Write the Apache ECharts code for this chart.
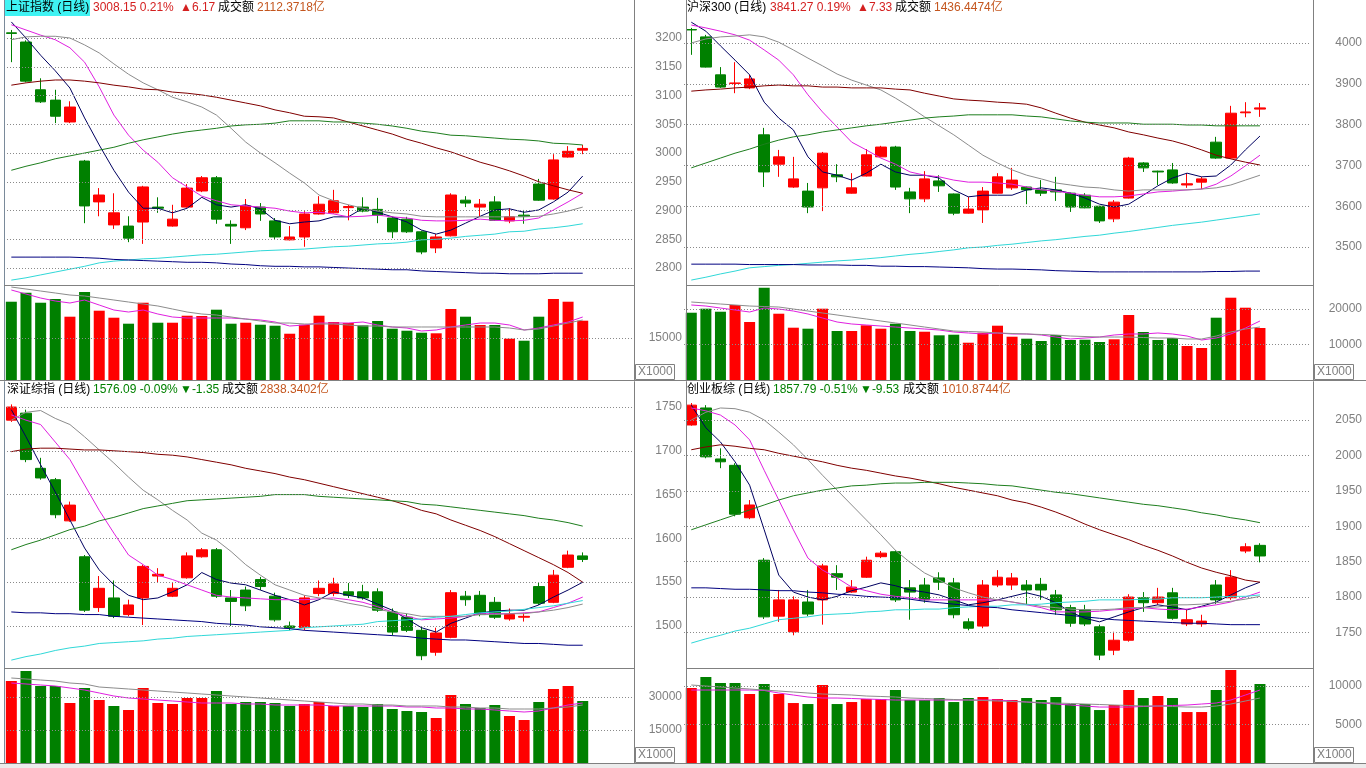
<!DOCTYPE html>
<html><head><meta charset="utf-8">
<script src="https://cdn.jsdelivr.net/npm/echarts@6.0.0/dist/echarts.min.js"></script>
<style>html,body{margin:0;padding:0;background:#fff;overflow:hidden}#c{width:1366px;height:768px}</style>
</head><body><div id="c"></div>
<script>
// ---------- DATA ----------
const CATEGORIES = ['D1','D2','D3','D4','D5','D6','D7','D8','D9','D10','D11','D12','D13','D14','D15','D16','D17','D18','D19','D20','D21','D22','D23','D24','D25','D26','D27','D28','D29','D30','D31','D32','D33','D34','D35','D36','D37','D38','D39','D40','','  ','   '];

// 上证指数  [open, close, low, high]
const SH_OHLC = [[3209,3208,3158,3214],[3193,3125,3123,3196],[3110,3089,3087,3130],[3092,3064,3052,3110],[3054,3080,3052,3090],[2986,2908,2878,2988],[2915,2927,2890,2939],[2875,2896,2868,2930],[2873,2852,2845,2890],[2880,2941,2842,2943],[2906,2904,2896,2923],[2873,2885,2872,2910],[2906,2939,2905,2946],[2934,2957,2932,2960],[2957,2885,2877,2960],[2876,2873,2842,2883],[2870,2908,2866,2920],[2906,2894,2882,2913],[2882,2854,2849,2887],[2849,2854,2848,2873],[2854,2894,2837,2899],[2894,2911,2893,2925],[2896,2917,2895,2936],[2905,2907,2883,2910],[2906,2899,2897,2923],[2902,2892,2878,2922],[2887,2863,2852,2889],[2885,2863,2861,2889],[2863,2828,2824,2865],[2835,2854,2826,2859],[2856,2927,2855,2930],[2918,2913,2906,2925],[2906,2911,2889,2920],[2915,2883,2882,2925],[2882,2889,2878,2904],[2892,2890,2877,2901],[2946,2918,2917,2955],[2920,2988,2919,2998],[2993,3003,2992,3012],[3005,3008,2998,3014]];
const SH_MA5 = [3228,3200,3170,3143,3113,3061,3014,2970,2932,2904,2904,2896,2904,2923,2910,2906,2910,2903,2883,2877,2880,2882,2889,2889,2904,2897,2889,2880,2866,2859,2866,2878,2890,2901,2903,2897,2901,2915,2932,2960];
const SH_MA10 = [3223,3214,3205,3197,3183,3158,3115,3066,3031,3005,2984,2957,2941,2925,2917,2910,2908,2906,2904,2899,2896,2897,2894,2889,2890,2892,2889,2887,2883,2882,2882,2883,2885,2883,2882,2883,2887,2901,2915,2930];
const SH_MA20 = [3197,3202,3203,3203,3200,3188,3174,3155,3137,3122,3110,3097,3089,3080,3066,3043,3019,3000,2983,2965,2948,2927,2917,2910,2904,2899,2896,2894,2890,2889,2889,2889,2889,2889,2889,2889,2890,2894,2899,2906];
const SH_MA60 = [3118,3122,3125,3127,3127,3125,3122,3118,3115,3111,3110,3106,3104,3101,3097,3092,3087,3082,3075,3070,3064,3063,3061,3054,3047,3040,3033,3024,3017,3009,3002,2993,2984,2977,2969,2960,2950,2943,2936,2930];
const SH_MA120 = [2970,2977,2983,2990,2995,3000,3005,3010,3017,3023,3028,3033,3037,3040,3043,3047,3049,3050,3052,3056,3056,3056,3054,3054,3052,3050,3047,3043,3038,3035,3031,3030,3028,3026,3024,3023,3021,3017,3016,3014];
const SH_MA250 = [2779,2783,2788,2793,2798,2803,2809,2812,2814,2816,2817,2819,2821,2823,2824,2826,2828,2830,2831,2832,2833,2835,2837,2838,2840,2842,2843,2845,2849,2850,2852,2855,2857,2859,2863,2864,2868,2870,2873,2877];
const SH_MAX = [2819,2819,2819,2819,2819,2818,2817,2815,2814,2813,2812,2811,2810,2810,2809,2807,2806,2804,2803,2803,2802,2802,2801,2800,2799,2798,2797,2797,2795,2794,2793,2792,2791,2791,2790,2790,2790,2791,2791,2791];
const SH_VOL = [27960,31180,27600,28930,22610,31430,24750,22250,20110,27600,20460,20460,22960,22860,25110,20110,20460,19750,19390,16530,19750,22960,20710,20360,19530,21070,18320,17600,16890,16680,25360,22610,19640,19640,14750,14030,22610,28930,27960,21180];
const SH_VMA5 = [32140,30710,29280,28210,27500,28570,26780,25000,24280,25000,23570,22500,22140,22140,22140,22140,21780,21430,20710,19280,19640,20350,20350,20350,20710,19640,18930,18570,17500,17860,18930,19640,20350,20350,19640,17860,18570,19640,20710,22500];
const SH_VMA10 = [33210,32500,31780,31070,30350,30000,29280,28570,27850,27140,26430,25350,24280,23570,23210,22500,21780,21070,20350,20350,20000,20000,20000,19640,19280,19280,18930,18930,18930,18930,18930,18930,18930,18930,18570,17860,18210,19280,20350,21430];
const SH_TICKS = [2800,2850,2900,2950,3000,3050,3100,3150,3200];
const SH_VTICKS = [15000];
const SH_TITLE = ['上证指数 (日线)','3008.15 0.21%','▲6.17','成交额','2112.3718亿'];

// 沪深300
const HS_OHLC = [[4033,4032,3971,4037],[4015,3941,3940,4020],[3922,3892,3890,3941],[3901,3902,3877,3953],[3890,3912,3887,3922],[3775,3684,3647,3792],[3703,3721,3672,3738],[3647,3667,3645,3721],[3637,3598,3583,3657],[3645,3730,3588,3733],[3677,3672,3659,3703],[3632,3645,3631,3681],[3674,3726,3673,3740],[3721,3745,3720,3748],[3745,3647,3640,3748],[3635,3618,3583,3645],[3618,3667,3610,3686],[3662,3650,3635,3676],[3630,3583,3578,3631],[3583,3593,3582,3623],[3591,3637,3559,3647],[3632,3672,3631,3681],[3645,3664,3640,3694],[3647,3640,3605,3648],[3640,3632,3625,3664],[3640,3635,3613,3672],[3632,3598,3586,3633],[3627,3596,3595,3632],[3600,3564,3559,3601],[3569,3610,3561,3615],[3620,3718,3619,3721],[3706,3694,3684,3708],[3686,3684,3652,3687],[3689,3657,3655,3706],[3652,3655,3645,3681],[3659,3667,3642,3672],[3757,3718,3716,3770],[3718,3828,3716,3846],[3829,3831,3818,3855],[3838,3841,3819,3853]];
const HS_MA5 = [4051,4029,3993,3958,3922,3855,3816,3787,3721,3684,3676,3664,3681,3703,3684,3676,3676,3669,3640,3623,3627,3627,3627,3640,3645,3640,3632,3620,3605,3598,3605,3627,3650,3669,3681,3672,3674,3701,3738,3772];
const HS_MA10 = [4044,4037,4029,4020,4007,3983,3958,3922,3873,3831,3794,3757,3738,3718,3703,3684,3676,3672,3664,3659,3659,3657,3654,3647,3640,3637,3632,3627,3623,3623,3625,3630,3635,3637,3640,3642,3654,3674,3699,3725];
const HS_MA20 = [4000,4010,4015,4017,4020,4015,4002,3983,3963,3944,3924,3909,3897,3885,3865,3843,3819,3797,3775,3750,3725,3706,3689,3676,3667,3657,3652,3647,3645,3640,3637,3640,3640,3640,3640,3642,3645,3652,3664,3676];
const HS_MA60 = [3882,3885,3887,3890,3892,3895,3897,3895,3895,3892,3892,3890,3890,3890,3887,3885,3877,3870,3863,3860,3858,3855,3853,3850,3841,3828,3816,3806,3799,3792,3782,3775,3767,3760,3750,3738,3725,3716,3708,3701];
const HS_MA120 = [3694,3706,3718,3730,3740,3752,3762,3770,3775,3782,3787,3792,3797,3801,3806,3811,3816,3819,3821,3824,3824,3824,3824,3821,3819,3814,3809,3806,3804,3804,3804,3801,3801,3801,3799,3799,3797,3797,3797,3797];
const HS_MA250 = [3419,3426,3434,3441,3449,3452,3455,3457,3460,3463,3466,3468,3471,3474,3478,3482,3485,3489,3493,3498,3500,3504,3507,3511,3515,3518,3522,3526,3529,3534,3538,3543,3548,3553,3557,3561,3566,3571,3576,3581];
const HS_MAX = [3458,3458,3458,3458,3457,3457,3457,3457,3456,3456,3456,3455,3455,3453,3453,3452,3452,3451,3450,3449,3447,3446,3446,3445,3444,3442,3441,3440,3439,3439,3439,3439,3439,3439,3439,3439,3440,3440,3441,3441];
const HS_VOL = [18910,20040,19190,21080,16300,25940,18630,14700,14420,20040,13770,13770,15370,14420,15820,13770,13570,12560,12730,10480,13290,15260,12170,11610,10960,12650,11240,11320,10680,11440,18270,13490,11240,11800,9550,8990,17510,23130,20320,14610];
const HS_VMA5 = [21080,20790,20230,19670,19110,20230,19950,19390,18550,17420,16300,15740,15460,15170,14890,14610,14330,14050,13490,13210,12930,13210,12930,12930,12650,12080,11520,11800,12080,12650,12930,12930,13210,12930,12360,11240,11800,12930,14610,16580];
const HS_VMA10 = [21920,21640,21360,21080,20790,20650,20510,19950,19390,18830,18270,17700,17140,16580,16020,15460,14890,14330,13770,13630,13490,13210,13070,12930,12790,12650,12360,12220,12080,12080,12080,11940,11800,11800,11520,11520,12360,13490,14330,14890];
const HS_TICKS = [3500,3600,3700,3800,3900,4000];
const HS_VTICKS = [10000,20000];
const HS_TITLE = ['沪深300 (日线)','3841.27 0.19%','▲7.33','成交额','1436.4474亿'];

// 深证综指
const SZ_OHLC = [[1735,1750,1733,1753],[1743,1690,1687,1747],[1680,1669,1667,1692],[1667,1627,1623,1669],[1620,1638,1619,1642],[1579,1518,1516,1581],[1521,1543,1516,1557],[1532,1511,1509,1552],[1513,1524,1511,1530],[1532,1568,1501,1570],[1557,1559,1550,1566],[1534,1543,1533,1549],[1555,1580,1554,1584],[1579,1587,1578,1589],[1587,1534,1532,1589],[1532,1528,1500,1541],[1541,1523,1517,1545],[1553,1545,1541,1556],[1534,1507,1505,1538],[1500,1498,1495,1505],[1498,1532,1495,1535],[1537,1543,1534,1552],[1537,1548,1534,1555],[1539,1535,1532,1549],[1539,1532,1530,1547],[1539,1518,1516,1543],[1516,1493,1489,1520],[1510,1495,1493,1514],[1495,1466,1461,1499],[1470,1492,1466,1498],[1487,1538,1486,1541],[1534,1530,1523,1540],[1535,1513,1511,1540],[1527,1510,1508,1533],[1508,1513,1506,1520],[1510,1511,1505,1515],[1545,1526,1524,1550],[1527,1558,1526,1564],[1567,1581,1566,1586],[1580,1576,1573,1584]];
const SZ_MA5 = [1747,1716,1684,1653,1621,1589,1564,1547,1535,1530,1532,1539,1547,1561,1553,1549,1547,1541,1535,1530,1524,1530,1539,1535,1532,1525,1518,1508,1498,1493,1503,1509,1515,1517,1518,1518,1524,1533,1541,1550];
const SZ_MA10 = [1741,1735,1730,1710,1690,1661,1632,1606,1581,1570,1558,1553,1547,1541,1535,1533,1532,1531,1530,1530,1530,1531,1532,1530,1527,1522,1516,1511,1507,1508,1509,1511,1514,1514,1514,1515,1516,1521,1526,1533];
const SZ_MA20 = [1735,1744,1746,1737,1730,1716,1701,1686,1670,1655,1644,1632,1621,1606,1598,1585,1570,1558,1547,1541,1535,1532,1530,1526,1523,1519,1516,1514,1511,1511,1511,1511,1513,1513,1514,1514,1516,1518,1521,1525];
const SZ_MA60 = [1699,1702,1703,1703,1702,1701,1701,1700,1699,1698,1696,1695,1693,1690,1687,1684,1680,1677,1674,1670,1667,1663,1659,1655,1651,1647,1643,1638,1632,1628,1621,1615,1609,1602,1594,1586,1578,1570,1561,1550];
const SZ_MA120 = [1587,1593,1598,1604,1610,1614,1620,1624,1629,1634,1637,1640,1643,1644,1645,1646,1647,1648,1650,1650,1650,1648,1647,1646,1645,1644,1643,1642,1639,1638,1636,1634,1632,1630,1628,1626,1623,1621,1618,1614];
const SZ_MA250 = [1461,1465,1468,1472,1475,1477,1480,1481,1482,1483,1485,1486,1488,1489,1490,1491,1492,1493,1494,1495,1498,1499,1500,1501,1502,1505,1506,1507,1508,1510,1511,1513,1515,1516,1517,1519,1521,1523,1526,1529];
const SZ_MAX = [1516,1515,1515,1514,1514,1513,1513,1511,1510,1509,1508,1507,1506,1505,1503,1502,1501,1499,1498,1497,1495,1494,1493,1492,1491,1490,1489,1488,1486,1485,1484,1484,1483,1482,1481,1480,1480,1479,1478,1478];
const SZ_VOL = [37270,41810,35000,35000,27270,34090,28630,25910,24090,34090,27270,26820,29540,29540,32720,26820,27720,27720,27270,25910,26820,27720,25910,25910,25450,26820,24540,23630,23180,20450,30910,26820,25000,26360,21360,19540,27720,33630,35000,28180];
const SZ_VMA5 = [36360,35910,35450,35000,34090,33180,31820,30450,29540,29090,28630,28180,27720,27270,27270,27270,26820,26820,26360,26360,26360,26360,25910,25910,25910,25910,25910,25450,25450,25000,25000,24540,24540,24090,23630,23180,23630,25000,26360,27270];
const SZ_VMA10 = [38630,38180,37720,37270,36360,35910,34540,34090,33630,33180,32720,32270,31820,31360,30910,30450,30000,29540,29090,28630,28180,27720,27270,26820,26820,26360,26360,25910,25910,25910,25450,25450,25000,25000,24540,24540,24540,25000,25450,26360];
const SZ_TICKS = [1500,1550,1600,1650,1700,1750];
const SZ_VTICKS = [15000,30000];
const SZ_TITLE = ['深证综指 (日线)','1576.09 -0.09%','▼-1.35','成交额','2838.3402亿'];

// 创业板综
const CY_OHLC = [[2043,2071,2042,2074],[2067,1998,1996,2071],[1995,1991,1982,2010],[1986,1917,1914,1989],[1912,1930,1910,1937],[1852,1772,1769,1855],[1773,1796,1765,1810],[1751,1796,1746,1801],[1793,1776,1773,1810],[1796,1844,1761,1847],[1833,1828,1810,1845],[1807,1814,1806,1824],[1828,1852,1827,1857],[1857,1862,1855,1865],[1864,1796,1793,1866],[1813,1807,1768,1824],[1817,1796,1792,1827],[1827,1821,1810,1835],[1820,1775,1770,1827],[1765,1756,1753,1770],[1759,1817,1756,1824],[1817,1828,1814,1838],[1817,1827,1810,1834],[1817,1810,1789,1824],[1818,1810,1796,1827],[1803,1782,1775,1810],[1785,1763,1758,1789],[1782,1762,1759,1789],[1758,1718,1711,1761],[1725,1739,1718,1751],[1739,1800,1737,1804],[1799,1792,1779,1807],[1792,1800,1789,1813],[1806,1770,1768,1813],[1762,1768,1759,1782],[1762,1766,1758,1775],[1817,1796,1790,1824],[1799,1828,1796,1838],[1865,1871,1862,1876],[1873,1858,1849,1876]];
const CY_MA5 = [2071,2039,2019,1991,1958,1895,1831,1807,1800,1796,1801,1809,1814,1820,1816,1810,1807,1803,1796,1789,1792,1796,1801,1806,1801,1792,1779,1770,1765,1772,1779,1785,1789,1786,1782,1787,1793,1803,1813,1821];
const CY_MA10 = [2067,2063,2057,2043,2022,1979,1937,1895,1855,1838,1827,1814,1809,1804,1801,1799,1796,1796,1796,1796,1796,1796,1793,1789,1785,1779,1779,1779,1780,1782,1783,1785,1783,1782,1783,1786,1789,1793,1800,1807];
const CY_MA20 = [2050,2061,2067,2066,2061,2050,2033,2015,1994,1972,1951,1930,1909,1888,1866,1849,1834,1824,1813,1806,1800,1796,1793,1790,1787,1785,1783,1782,1782,1783,1785,1785,1786,1789,1789,1790,1792,1794,1797,1801];
const CY_MA60 = [2008,2012,2015,2013,2010,2008,2003,1999,1995,1991,1986,1982,1979,1975,1971,1968,1964,1960,1955,1951,1947,1943,1937,1933,1927,1920,1912,1903,1895,1888,1881,1873,1866,1858,1849,1841,1835,1830,1824,1821];
const CY_MA120 = [1895,1902,1909,1916,1923,1930,1937,1943,1947,1951,1954,1957,1958,1960,1961,1961,1962,1962,1962,1961,1960,1958,1957,1954,1951,1948,1946,1943,1940,1937,1934,1931,1929,1926,1923,1919,1916,1912,1909,1905];
const CY_MA250 = [1735,1741,1746,1752,1756,1762,1768,1770,1772,1775,1776,1777,1779,1780,1782,1782,1783,1783,1785,1786,1787,1787,1789,1789,1790,1792,1793,1794,1796,1796,1796,1797,1797,1799,1799,1799,1800,1801,1801,1803];
const CY_MAX = [1813,1813,1812,1811,1811,1810,1809,1809,1807,1806,1804,1803,1801,1800,1799,1797,1794,1792,1790,1788,1786,1785,1782,1780,1778,1776,1774,1772,1770,1768,1767,1766,1765,1764,1763,1763,1762,1761,1761,1761];
const CY_VOL = [9740,11170,10390,10390,8960,10260,8960,7790,7660,10130,7660,7920,8310,8310,9480,8180,8180,8440,7920,8440,8570,8310,8180,8440,8180,8570,7660,7660,6880,7530,9480,8440,8700,8440,6620,6620,9480,12080,9480,10260];
const CY_VMA5 = [9480,9480,9480,9480,9480,9420,9090,8830,8570,8440,8440,8380,8310,8250,8180,8180,8180,8180,8180,8180,8180,8180,8050,7920,7790,7660,7530,7400,7270,7270,7270,7340,7400,7470,7530,7660,7790,8180,8830,9480];
const CY_VMA10 = [10130,10000,9870,9740,9610,9480,9350,9220,9090,8960,8900,8830,8700,8640,8570,8440,8380,8310,8250,8180,8120,8050,7990,7920,7860,7790,7730,7660,7600,7530,7470,7400,7400,7340,7270,7270,7400,7660,8050,8440];
const CY_TICKS = [1750,1800,1850,1900,1950,2000,2050];
const CY_VTICKS = [5000,10000];
const CY_TITLE = ['创业板综 (日线)','1857.79 -0.51%','▼-9.53','成交额','1010.8744亿'];

// ---------- LAYOUT / STYLE ----------
const UP = '#FF0000', DOWN = '#008000';
const MA_COLORS = ['#000060','#E020E0','#8C8C8C','#800000','#1E7E1E','#30D8D8','#000080'];
const FONT = '"Liberation Sans","Noto Sans CJK SC",sans-serif';
const PANELS = [
  {ohlc:SH_OHLC, mas:[SH_MA5,SH_MA10,SH_MA20,SH_MA60,SH_MA120,SH_MA250,SH_MAX], vol:SH_VOL, vma:[SH_VMA5,SH_VMA10], ticks:SH_TICKS, vticks:SH_VTICKS, title:SH_TITLE, up:true,
   pMin:2770.5, pMax:3234.8, vMax:33930, gx:4, gw:630, py:18, ph:267, vy:285, vh:95, lm:48, tx:[6,93,180,218,257], ty:8, hl:true},
  {ohlc:HS_OHLC, mas:[HS_MA5,HS_MA10,HS_MA20,HS_MA60,HS_MA120,HS_MA250,HS_MAX], vol:HS_VOL, vma:[HS_VMA5,HS_VMA10], ticks:HS_TICKS, vticks:HS_VTICKS, title:HS_TITLE, up:true,
   pMin:3406.9, pMax:4061.3, vMax:26700, gx:684, gw:627, py:18, ph:267, vy:285, vh:95, lm:51, tx:[687,770,857,895,934], ty:8},
  {ohlc:SZ_OHLC, mas:[SZ_MA5,SZ_MA10,SZ_MA20,SZ_MA60,SZ_MA120,SZ_MA250,SZ_MAX], vol:SZ_VOL, vma:[SZ_VMA5,SZ_VMA10], ticks:SZ_TICKS, vticks:SZ_VTICKS, title:SZ_TITLE, up:false,
   pMin:1452.0, pMax:1760.3, vMax:43180, gx:4, gw:630, py:398, ph:270, vy:668, vh:95, lm:48, tx:[7,93,180,222,260], ty:390},
  {ohlc:CY_OHLC, mas:[CY_MA5,CY_MA10,CY_MA20,CY_MA60,CY_MA120,CY_MA250,CY_MAX], vol:CY_VOL, vma:[CY_VMA5,CY_VMA10], ticks:CY_TICKS, vticks:CY_VTICKS, title:CY_TITLE, up:false,
   pMin:1699.8, pMax:2081.1, vMax:12340, gx:684, gw:627, py:398, ph:270, vy:668, vh:95, lm:51, tx:[687,773,860,903,942], ty:390}
];

const grid = [], xAxis = [], yAxis = [], series = [], graphic = [];
const gridLine = (vals) => ({silent:true, symbol:'none', animation:false, label:{show:false},
  lineStyle:{type:[1,2], color:'#8a8a8a', width:1}, data: vals.map(v => ({yAxis:v}))});

PANELS.forEach((p) => {
  const gi = grid.length;
  grid.push({left:p.gx, top:p.py, width:p.gw, height:p.ph});
  grid.push({left:p.gx, top:p.vy, width:p.gw, height:p.vh});
  [gi, gi+1].forEach(g => xAxis.push({type:'category', gridIndex:g, data:CATEGORIES, boundaryGap:true,
    axisLine:{show:false}, axisTick:{show:false}, axisLabel:{show:false}, splitLine:{show:false}}));
  const lab = (vals) => ({color:'#808080', fontSize:12, fontFamily:FONT, align:'right', margin:p.lm,
    customValues:vals, formatter:(v) => String(Math.round(v))});
  const yBase = {type:'value', position:'right', axisLine:{show:false}, axisTick:{show:false}, splitLine:{show:false}};
  yAxis.push(Object.assign({}, yBase, {gridIndex:gi, min:p.pMin, max:p.pMax, axisLabel:lab(p.ticks)}));
  yAxis.push(Object.assign({}, yBase, {gridIndex:gi+1, min:0, max:p.vMax, axisLabel:lab(p.vticks)}));

  series.push({type:'candlestick', xAxisIndex:gi, yAxisIndex:gi, data:p.ohlc, barWidth:11, z:2,
    itemStyle:{color:UP, color0:DOWN, borderColor:UP, borderColor0:DOWN, borderWidth:1},
    markLine:gridLine(p.ticks)});
  p.mas.forEach((m, k) => series.push({type:'line', xAxisIndex:gi, yAxisIndex:gi, data:m, symbol:'none', showSymbol:false,
    z:3, lineStyle:{width:1, color:MA_COLORS[k]}}));
  series.push({type:'bar', xAxisIndex:gi+1, yAxisIndex:gi+1, barWidth:11, z:2,
    data:p.vol.map((v, i) => ({value:v, itemStyle:{color: p.ohlc[i][1] >= p.ohlc[i][0] ? UP : DOWN}})),
    markLine:gridLine(p.vticks)});
  p.vma.forEach((m, k) => series.push({type:'line', xAxisIndex:gi+1, yAxisIndex:gi+1, data:m, symbol:'none', showSymbol:false,
    z:3, lineStyle:{width:1, color: k === 0 ? '#E020E0' : '#8C8C8C'}}));

  // title
  const c = p.up ? '#D42020' : '#008000';
  const cols = ['#000000', c, c, '#000000', '#C4561E'];
  if (p.hl) graphic.push({type:'rect', z:10, shape:{x:5, y:0, width:85, height:16}, style:{fill:'#3FF3F3'}});
  p.title.forEach((t, k) => graphic.push({type:'text', z:11, x:p.tx[k], y:p.ty,
    style:{text:t, fill:cols[k], font:'12px ' + FONT, verticalAlign:'middle', align:'left'}}));
  // X1000 box
  const bx = p.gx < 100 ? 635 : 1314;
  const by = p.vy + p.vh - 16;
  graphic.push({type:'rect', z:10, shape:{x:bx + 0.5, y:by + 0.5, width:39, height:15}, style:{fill:'#fff', stroke:'#808080', lineWidth:1}});
  graphic.push({type:'text', z:11, x:bx + 3, y:by + 8, style:{text:'X1000', fill:'#808080', font:'12px ' + FONT, verticalAlign:'middle'}});
});

// frame lines
const L = (x1,y1,x2,y2,c) => graphic.push({type:'line', z:9, shape:{x1,y1,x2,y2}, style:{stroke:c||'#808080', lineWidth:1}});
L(4.5,0,4.5,763,'#7a8a9a');
L(634.5,0,634.5,763); L(686.5,0,686.5,763); L(1313.5,0,1313.5,763);
L(4,285.5,634,285.5); L(686,285.5,1313,285.5);
L(0,380.5,1366,380.5);
L(4,668.5,634,668.5); L(686,668.5,1313,668.5);
L(0,763.5,1366,763.5);
graphic.push({type:'rect', z:8, shape:{x:0, y:764, width:1366, height:4}, style:{fill:'#ECECEC'}});

const chart = echarts.init(document.getElementById('c'), null, {renderer:'canvas'});
chart.setOption({animation:false, backgroundColor:'#ffffff', grid, xAxis, yAxis, series, graphic});
</script></body></html>
